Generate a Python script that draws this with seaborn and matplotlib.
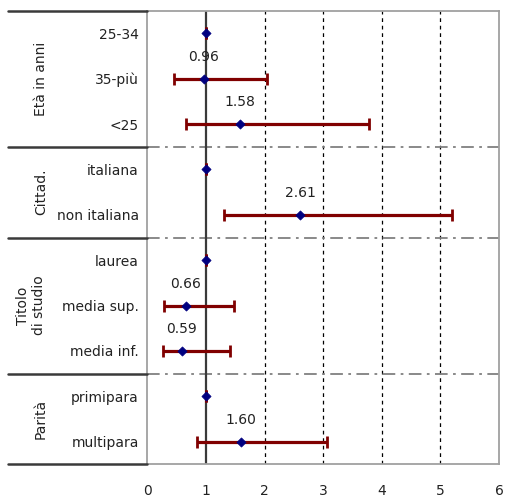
import matplotlib
matplotlib.use("Agg")
import matplotlib.pyplot as plt
import matplotlib.transforms as mtransforms
import seaborn as sns
import numpy as np
import pandas as pd

# dati
categorie = ["25-34", "35-più", "<25", "italiana", "non italiana",
             "laurea", "media sup.", "media inf.", "primipara", "multipara"]
odds = [1, 0.96, 1.58, 1, 2.61, 1, 0.66, 0.59, 1, 1.60]
ci_inf = [1, 0.45, 0.66, 1, 1.31, 1, 0.29, 0.26, 1, 0.84]
ci_sup = [1, 2.04, 3.78, 1, 5.20, 1, 1.48, 1.41, 1, 3.07]
gruppi = ["Età in anni", "Cittad.", "Titolo\ndi studio", "Parità"]
dim_gruppi = [3, 2, 3, 2]
xticks = [0, 1, 2, 3, 4, 5, 6]

df = pd.DataFrame({"categoria": categorie, "odds": odds,
                   "inf": ci_inf, "sup": ci_sup})
df["pos"] = np.arange(len(df))

sns.set_theme(style="white")
plt.rcParams["font.family"] = ["DejaVu Sans"]

fig = plt.figure(figsize=(5.07, 4.99), dpi=100)
ax = fig.add_axes([147.3 / 507, 1 - 464.3 / 499, 351.7 / 507, 453.6 / 499])

# griglia verticale tratteggiata
for x in [2, 3, 4, 5]:
    ax.axvline(x, color="black", lw=0.9, ls=(0, (3, 3)), zorder=1)
ax.axvline(1, color="#3a3a3a", lw=1.6, zorder=2)

# separatori tra gruppi
confini = np.cumsum(dim_gruppi)[:-1] - 0.5
for yb in confini:
    ax.axhline(yb, color="#808080", lw=1.3, ls=(0, (7, 3, 1.5, 3)), zorder=1)

# intervalli di confidenza
ax.errorbar(df["odds"], df["pos"],
            xerr=[df["odds"] - df["inf"], df["sup"] - df["odds"]],
            fmt="none", ecolor="#800000", elinewidth=2.3,
            capsize=4.5, capthick=2, zorder=3)

sns.scatterplot(data=df, x="odds", y="pos", marker="D", color="#000080",
                s=22, edgecolor="#000080", linewidth=0.5, zorder=4, ax=ax)

for _, r in df.iterrows():
    if r["odds"] != 1:
        ax.text(r["odds"], r["pos"] - 0.33, f"{r['odds']:.2f}",
                ha="center", va="bottom", fontsize=10, color="#222222")

ax.set_xlim(0, 6)
ax.set_ylim(len(df) - 0.5, -0.5)
ax.set_xticks(xticks)
ax.set_xticklabels([str(t) for t in xticks])
ax.set_yticks(df["pos"])
ax.set_yticklabels(df["categoria"])
ax.set_xlabel("")
ax.set_ylabel("")
ax.tick_params(axis="x", length=0, pad=14, labelsize=10, colors="#222222")
ax.tick_params(axis="y", length=0, pad=6, labelsize=10, colors="#222222")
for s in ax.spines.values():
    s.set_color("#a0a0a0")
    s.set_linewidth(1.3)

# riquadro a sinistra con le linee dei gruppi
trans = mtransforms.blended_transform_factory(ax.transAxes, ax.transData)
x0 = (8 - 147.3) / 351.7
linee = [-0.5] + list(confini) + [len(df) - 0.5]
for yl in linee:
    ax.plot([x0, 0], [yl, yl], color="#3a3a3a", lw=1.8,
            transform=trans, clip_on=False, zorder=5)

inizio = 0
for nome, n in zip(gruppi, dim_gruppi):
    yc = inizio + (n - 1) / 2
    xg = (31 - 147.3) / 351.7 if "\n" in nome else (41 - 147.3) / 351.7
    ax.text(xg, yc, nome, rotation=90, ha="center", va="center",
            fontsize=10, color="#222222", transform=trans, linespacing=1.1)
    inizio += n

fig.savefig("out.png", dpi=100)
